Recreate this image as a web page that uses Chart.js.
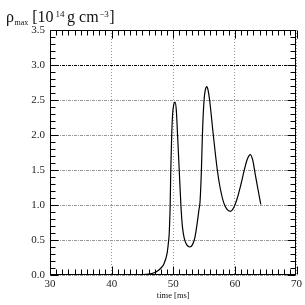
<!DOCTYPE html>
<html>
<head>
<meta charset="utf-8">
<script src="https://cdn.jsdelivr.net/npm/chart.js@4.4.0/dist/chart.umd.min.js"></script>
<style>
  html, body { margin: 0; padding: 0; background: #fff; }
  #wrap { width: 305px; height: 305px; }
</style>
</head>
<body>
<div id="wrap"><canvas id="chart"></canvas></div>
<script>
// ── Data ────────────────────────────────────────────────────────
const timeMs = [
  42.9, 44.0, 45.0, 46.0, 46.5, 47.0, 47.5, 48.0, 48.5, 49.0,
  49.2, 49.35, 49.5, 49.6, 49.75, 49.9, 50.1, 50.3, 50.5, 50.7,
  50.97, 51.24, 51.5, 51.8, 52.2, 52.7, 53.1, 53.5, 53.9, 54.15,
  54.35, 54.57, 54.73, 55.0, 55.2, 55.45, 55.65, 55.9, 56.5, 57.15,
  57.6, 58.2, 58.7, 59.3, 59.8, 60.4, 61.0, 61.5, 62.0, 62.5,
  62.9, 63.3, 63.8, 64.2
];
const rhoMax = [
  0.0, 0.002, 0.005, 0.012, 0.02, 0.035, 0.06, 0.1, 0.16, 0.31,
  0.45, 0.6, 1.0, 1.5, 2.0, 2.3, 2.44, 2.47, 2.35, 2.0,
  1.5, 1.0, 0.68, 0.52, 0.43, 0.40, 0.43, 0.53, 0.75, 0.92,
  1.05, 1.5, 2.0, 2.5, 2.64, 2.69, 2.64, 2.5, 2.0, 1.5,
  1.25, 1.03, 0.94, 0.91, 0.96, 1.1, 1.3, 1.49, 1.65, 1.72,
  1.64, 1.44, 1.2, 1.01
];
const xTicks = [30, 40, 50, 60, 70];
const yTicks = [0.0, 0.5, 1.0, 1.5, 2.0, 2.5, 3.0, 3.5];
const xMinorStep = 1;
const yMinorStep = 0.1;

const SERIF = "'Liberation Serif', 'DejaVu Serif', serif";

// ── Inward ticks, frame, titles ────────────────────────────────
const framePlugin = {
  id: 'frame',
  afterDraw(chart) {
    const { ctx, chartArea: a, scales: { x, y } } = chart;
    const L = Math.floor(a.left) + 0.5, R = Math.floor(a.right) - 0.5;
    const T = Math.floor(a.top) + 0.5, B = Math.floor(a.bottom) - 0.5;
    ctx.save();
    ctx.strokeStyle = '#000';
    ctx.lineWidth = 1;
    ctx.beginPath();
    const x0 = xTicks[0], x1 = xTicks[xTicks.length - 1];
    for (let i = 0; i <= Math.round((x1 - x0) / xMinorStep); i++) {
      const v = x0 + i * xMinorStep;
      const px = Math.round(x.getPixelForValue(v)) + 0.5;
      const len = xTicks.includes(v) ? 8 : 5;
      ctx.moveTo(px, B); ctx.lineTo(px, B - len);
      ctx.moveTo(px, T); ctx.lineTo(px, T + len);
    }
    const y0 = yTicks[0], y1 = yTicks[yTicks.length - 1];
    for (let i = 0; i <= Math.round((y1 - y0) / yMinorStep); i++) {
      const v = +(y0 + i * yMinorStep).toFixed(2);
      const py = Math.round(y.getPixelForValue(v)) + 0.5;
      const len = yTicks.includes(v) ? 8 : 5;
      ctx.moveTo(L, py); ctx.lineTo(L + len, py);
      ctx.moveTo(R, py); ctx.lineTo(R - len, py);
    }
    ctx.stroke();
    ctx.strokeRect(L, T, R - L, B - T);

    // x axis title
    ctx.fillStyle = '#111';
    ctx.font = `8.5px ${SERIF}`;
    ctx.textAlign = 'center';
    ctx.textBaseline = 'alphabetic';
    ctx.fillText('time [ms]', (a.left + a.right) / 2, 298);

    // y title: ρmax [10^14 g cm^-3]
    const parts = [
      { t: 'ρ', s: 16, dy: 0, gap: 0.5 },
      { t: 'max', s: 8, dy: 3, gap: 4 },
      { t: '[10', s: 16, dy: 0, gap: 2 },
      { t: '14', s: 9, dy: -5, gap: 2.5 },
      { t: 'g cm', s: 16, dy: 0, gap: 0.5 },
      { t: '−3', s: 9, dy: -5, gap: 0.5 },
      { t: ']', s: 16, dy: 0, gap: 0 },
    ];
    ctx.textAlign = 'left';
    let cx = 6;
    const base = 22;
    parts.forEach((p) => {
      ctx.font = `${p.s}px ${SERIF}`;
      ctx.fillText(p.t, cx, base + p.dy);
      cx += ctx.measureText(p.t).width + p.gap;
    });
    ctx.restore();
  },
};

new Chart(document.getElementById('chart'), {
  type: 'line',
  data: {
    datasets: [{
      data: timeMs.map((t, i) => ({ x: t, y: rhoMax[i] })),
      borderColor: '#000',
      borderWidth: 1.2,
      pointRadius: 0,
      fill: false,
      cubicInterpolationMode: 'monotone',
    }],
  },
  options: {
    responsive: true,
    maintainAspectRatio: false,
    animation: false,
    layout: { padding: { left: 0, right: 7, top: 30, bottom: 0 } },
    plugins: { legend: { display: false }, tooltip: { enabled: false } },
    scales: {
      x: {
        type: 'linear',
        min: 30,
        max: 70,
        afterBuildTicks: (s) => { s.ticks = xTicks.map((v) => ({ value: v })); },
        afterFit: (s) => { s.height = 30; },
        ticks: {
          padding: 3,
          color: '#222',
          font: { family: SERIF, size: 11 },
          callback: (v) => String(v),
        },
        grid: {
          drawTicks: false,
          color: '#999',
          lineWidth: 1,
        },
        border: { display: false, dash: [1, 2] },
      },
      y: {
        min: 0,
        max: 3.5,
        afterBuildTicks: (s) => { s.ticks = yTicks.map((v) => ({ value: v })); },
        afterFit: (s) => { s.width = 50; },
        ticks: {
          padding: 5,
          color: '#222',
          font: { family: SERIF, size: 11 },
          callback: (v) => Number(v).toFixed(1),
        },
        grid: {
          drawTicks: false,
          color: (c) => (c.tick && c.tick.value === 3 ? '#000' : '#999'),
          lineWidth: 1,
        },
        border: { display: false, dash: [3, 1, 1, 1] },
      },
    },
  },
  plugins: [framePlugin],
});
</script>
</body>
</html>
